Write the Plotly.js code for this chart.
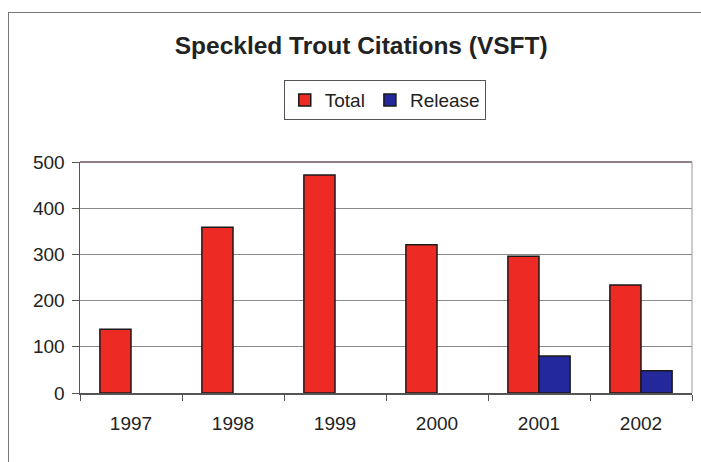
<!DOCTYPE html>
<html>
<head>
<meta charset="utf-8">
<script src="https://cdn.plot.ly/plotly-3.0.1.min.js"></script>
<style>
  html, body { margin: 0; padding: 0; background: #fff; width: 701px; height: 462px; overflow: hidden; }
  #frame { position: absolute; left: 8px; top: 12px; width: 693px; height: 450px; box-sizing: border-box;
           border-left: 1px solid #777; border-top: 1px solid #777; }
  #chart { width: 692px; height: 449px; }
</style>
</head>
<body>
<div id="frame"><div id="chart"></div></div>
<script>
const years = ['1997', '1998', '1999', '2000', '2001', '2002'];
const totalValues = [138, 359, 472, 321, 296, 234];
const releaseValues = [null, null, null, null, 80, 48];
const yTicks = [0, 100, 200, 300, 400, 500];

const traces = [
  { type: 'bar', name: 'Total', x: years, y: totalValues,
    marker: { color: '#ee2a24', line: { color: '#1a1a1a', width: 1.5 } } },
  { type: 'bar', name: 'Release', x: years, y: releaseValues,
    marker: { color: '#23289a', line: { color: '#1a1a1a', width: 1.5 } } }
];

const layout = {
  width: 692, height: 449,
  margin: { l: 71, r: 9, t: 149, b: 69 },
  paper_bgcolor: '#ffffff', plot_bgcolor: '#ffffff',
  font: { family: 'Arial, Liberation Sans, sans-serif', color: '#222', size: 19 },
  title: { text: '<b>Speckled Trout Citations (VSFT)</b>', font: { size: 24.5, color: '#222' },
           xref: 'container', yref: 'container', x: 0.509, y: 1 - 32 / 449, xanchor: 'center', yanchor: 'middle' },
  barmode: 'group', bargap: 0.39, bargroupgap: 0,
  showlegend: true,
  legend: { orientation: 'h', x: 0.498, y: 1.268, xanchor: 'center', yanchor: 'middle',
            bordercolor: '#555', borderwidth: 1, font: { size: 19, color: '#222' },
            itemwidth: 30, tracegroupgap: 0 },
  xaxis: { type: 'category', tickson: 'boundaries', ticks: 'outside', ticklen: 6, tickcolor: '#555',
           showline: true, linecolor: '#555', linewidth: 1.5, showgrid: false,
           tickfont: { size: 19, color: '#222' }, ticklabelstandoff: 13, fixedrange: true },
  yaxis: { range: [0, 500], tickvals: yTicks, ticks: 'outside', ticklen: 7, tickcolor: '#555',
           showline: true, linecolor: '#555', linewidth: 1.5, showgrid: true, gridcolor: '#8a8a8a', gridwidth: 1,
           zeroline: false, tickfont: { size: 19, color: '#222' }, ticklabelstandoff: 3, fixedrange: true },
  shapes: [
    { type: 'line', xref: 'paper', yref: 'paper', x0: 0, x1: 1, y0: 1, y1: 1, line: { color: '#6a5560', width: 1.5 } },
    { type: 'line', xref: 'paper', yref: 'paper', x0: 1, x1: 1, y0: 0, y1: 1, line: { color: '#999', width: 1 } }
  ]
};

Plotly.newPlot('chart', traces, layout, { displayModeBar: false, staticPlot: true });
</script>
</body>
</html>
